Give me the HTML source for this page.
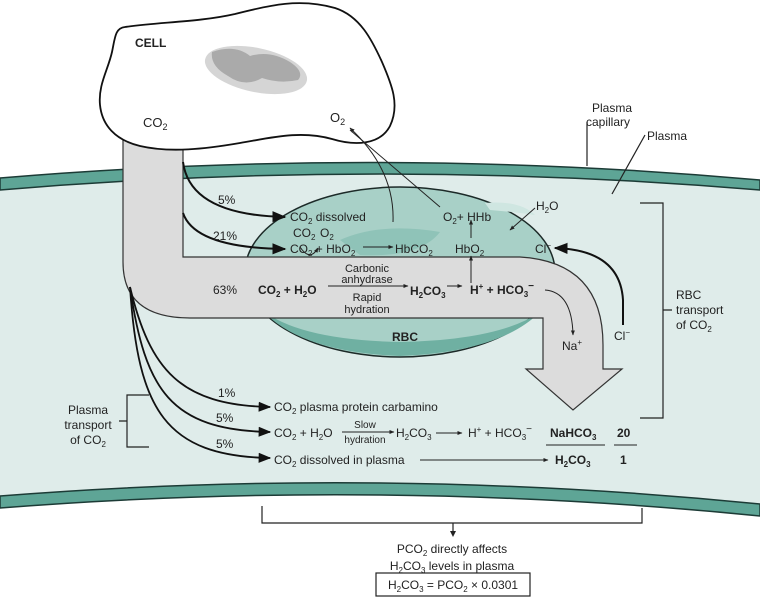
<!DOCTYPE html>
<html><head><meta charset="utf-8"><style>
html,body{margin:0;padding:0;background:#fff}
svg{display:block}
text{font-family:"Liberation Sans",Arial,sans-serif;fill:#222}
</style></head><body>
<svg width="760" height="601" viewBox="0 0 760 601" xmlns="http://www.w3.org/2000/svg">
<defs>
<marker id="a" viewBox="0 0 10 10" refX="9" refY="5" markerWidth="7" markerHeight="7" orient="auto"><path d="M0,1 L10,5 L0,9 z" fill="#111"/></marker>
<marker id="s" viewBox="0 0 10 10" refX="9" refY="5" markerWidth="5" markerHeight="5" orient="auto"><path d="M0,1 L10,5 L0,9 z" fill="#222"/></marker>
</defs>
<path d="M0,184 Q380,150 760,186 L760,510 Q380,470 0,500 Z" fill="#dfecea"/>
<path d="M0,178 Q380,146 760,180 L760,190 Q380,158 0,190 Z" fill="#5ea596" stroke="#1c3b36" stroke-width="1.5"/>
<path d="M0,496 Q380,466 760,504 L760,516 Q380,478 0,508 Z" fill="#5ea596" stroke="#1c3b36" stroke-width="1.5"/>
<ellipse cx="400" cy="272" rx="155" ry="85" fill="#a8d0c7" stroke="#1c2a28" stroke-width="1.5"/>
<path d="M262,310 Q300,352 400,356 Q500,352 540,312 Q500,340 400,342 Q300,340 262,310Z" fill="#6fb0a2"/>
<path d="M340,240 Q380,222 440,232 Q420,258 360,255Z" fill="#8fc3b8"/>
<path d="M485,203 Q520,200 535,215 Q515,212 490,210Z" fill="#cfe6e1"/>
<path d="M123,140 L183,140 L183,257 L520,257 Q603,262 603,345 L603,369 L622,369 L573,410 L526,369 L543,369 L543,318 L190,318 Q123,318 123,262 Z" fill="#dcdcdc" stroke="#333" stroke-width="1.2"/>
<!-- cell -->
<path d="M125,27 C160,22 200,22 235,14 C270,5 300,-2 335,8 C360,16 372,40 382,62 C392,85 400,105 390,126 C380,145 355,146 332,139 C300,130 270,138 240,143 C205,149 170,153 140,146 C115,140 102,125 100,105 C98,85 108,70 112,52 C115,38 115,28 125,27Z" fill="#fff" stroke="#111" stroke-width="1.8"/>
<ellipse cx="256" cy="70" rx="52" ry="22" fill="#d5d5d5" transform="rotate(12 256 70)"/>
<path d="M212,52 Q235,44 250,56 Q270,50 290,62 Q305,72 298,80 Q280,84 262,78 Q245,88 228,76 Q210,66 212,52Z" fill="#aaa"/>
<text x="135" y="47" font-size="12" font-weight="bold">CELL</text>
<text x="143" y="127" font-size="13">CO<tspan font-size="9" dy="3">2</tspan></text>
<text x="330" y="122" font-size="13">O<tspan font-size="9" dy="3">2</tspan></text>
<path d="M183,162 Q190,215 285,217" fill="none" stroke="#111" stroke-width="2" marker-end="url(#a)"/>
<path d="M183,213 Q195,248 285,249" fill="none" stroke="#111" stroke-width="2" marker-end="url(#a)"/>
<path d="M393,222 Q395,170 350,128" fill="none" stroke="#222" stroke-width="1" marker-end="url(#s)"/>
<path d="M440,207 L350,130" fill="none" stroke="#222" stroke-width="1"/>
<path d="M300,247 Q310,262 318,248" fill="none" stroke="#222" stroke-width="1" marker-end="url(#s)"/>
<path d="M363,247 L393,247" stroke="#222" stroke-width="1" marker-end="url(#s)"/>
<path d="M471,238 L471,220" stroke="#222" stroke-width="1" marker-end="url(#s)"/>
<path d="M471,283 L471,256" stroke="#222" stroke-width="1" marker-end="url(#s)"/>
<path d="M535,208 L510,230" stroke="#222" stroke-width="1" marker-end="url(#s)"/>
<path d="M623,325 L623,300 Q620,250 555,248" fill="none" stroke="#111" stroke-width="2" marker-end="url(#a)"/>
<path d="M545,290 Q572,292 573,335" fill="none" stroke="#222" stroke-width="1" marker-end="url(#s)"/>
<path d="M328,286 L408,286" stroke="#222" stroke-width="1" marker-end="url(#s)"/>
<path d="M447,286 L462,286" stroke="#222" stroke-width="1" marker-end="url(#s)"/>
<text x="218" y="204" font-size="12">5%</text>
<text x="290" y="221" font-size="12">CO<tspan font-size="8" dy="3">2</tspan><tspan dy="-3"> dissolved</tspan></text>
<text x="213" y="240" font-size="12">21%</text>
<text x="290" y="253" font-size="12">CO<tspan font-size="8" dy="3">2</tspan><tspan dy="-3"> + HbO</tspan><tspan font-size="8" dy="3">2</tspan></text>
<text x="293" y="237" font-size="12">CO<tspan font-size="8" dy="3">2</tspan></text>
<text x="320" y="237" font-size="12">O<tspan font-size="8" dy="3">2</tspan></text>
<text x="395" y="253" font-size="12">HbCO<tspan font-size="8" dy="3">2</tspan></text>
<text x="443" y="221" font-size="12">O<tspan font-size="8" dy="3">2</tspan><tspan dy="-3">+ HHb</tspan></text>
<text x="455" y="253" font-size="12">HbO<tspan font-size="8" dy="3">2</tspan></text>
<text x="536" y="210" font-size="12">H<tspan font-size="8" dy="3">2</tspan><tspan dy="-3">O</tspan></text>
<text x="535" y="253" font-size="12">Cl<tspan font-size="8" dy="-5">−</tspan></text>
<text x="213" y="294" font-size="12">63%</text>
<text x="258" y="294" font-size="12" font-weight="bold">CO<tspan font-size="8" dy="3">2</tspan><tspan dy="-3"> + H</tspan><tspan font-size="8" dy="3">2</tspan><tspan dy="-3">O</tspan></text>
<text x="367" y="272" font-size="11" text-anchor="middle">Carbonic</text>
<text x="367" y="283" font-size="11" text-anchor="middle">anhydrase</text>
<text x="367" y="301" font-size="11" text-anchor="middle">Rapid</text>
<text x="367" y="313" font-size="11" text-anchor="middle">hydration</text>
<text x="410" y="295" font-size="12" font-weight="bold">H<tspan font-size="8" dy="3">2</tspan><tspan dy="-3">CO</tspan><tspan font-size="8" dy="3">3</tspan></text>
<text x="470" y="294" font-size="12" font-weight="bold">H<tspan font-size="8" dy="-5">+</tspan><tspan dy="5"> + HCO</tspan><tspan font-size="8" dy="3">3</tspan><tspan font-size="10" dy="-8">−</tspan></text>
<text x="392" y="341" font-size="12" font-weight="bold">RBC</text>
<text x="562" y="350" font-size="12">Na<tspan font-size="8" dy="-5">+</tspan></text>
<text x="614" y="340" font-size="12">Cl<tspan font-size="8" dy="-5">−</tspan></text>
<text x="612" y="112" font-size="12" text-anchor="middle">Plasma</text>
<text x="608" y="126" font-size="12" text-anchor="middle">capillary</text>
<line x1="587" y1="122" x2="587" y2="166" stroke="#222" stroke-width="1.2"/>
<text x="647" y="140" font-size="12">Plasma</text>
<line x1="645" y1="135" x2="612" y2="194" stroke="#222" stroke-width="1.2"/>
<path d="M640,203 L663,203 L663,418 L640,418 M663,310 L672,310" fill="none" stroke="#222" stroke-width="1.2"/>
<text x="676" y="299" font-size="12">RBC</text>
<text x="676" y="314" font-size="12">transport</text>
<text x="676" y="329" font-size="12">of CO<tspan font-size="8" dy="3">2</tspan></text>
<path d="M130,287 C150,370 180,405 270,407" fill="none" stroke="#111" stroke-width="1.8" marker-end="url(#a)"/>
<path d="M130,287 C145,390 170,430 270,432" fill="none" stroke="#111" stroke-width="1.8" marker-end="url(#a)"/>
<path d="M130,287 C138,410 165,456 270,458" fill="none" stroke="#111" stroke-width="1.8" marker-end="url(#a)"/>
<text x="218" y="397" font-size="12">1%</text>
<text x="274" y="411" font-size="12">CO<tspan font-size="8" dy="3">2</tspan><tspan dy="-3"> plasma protein carbamino</tspan></text>
<text x="216" y="422" font-size="12">5%</text>
<text x="274" y="437" font-size="12">CO<tspan font-size="8" dy="3">2</tspan><tspan dy="-3"> + H</tspan><tspan font-size="8" dy="3">2</tspan><tspan dy="-3">O</tspan></text>
<text x="365" y="428" font-size="10" text-anchor="middle">Slow</text>
<text x="365" y="443" font-size="10" text-anchor="middle">hydration</text>
<line x1="342" y1="432" x2="394" y2="432" stroke="#222" stroke-width="1" marker-end="url(#s)"/>
<text x="396" y="437" font-size="12">H<tspan font-size="8" dy="3">2</tspan><tspan dy="-3">CO</tspan><tspan font-size="8" dy="3">3</tspan></text>
<line x1="436" y1="433" x2="462" y2="433" stroke="#222" stroke-width="1" marker-end="url(#s)"/>
<text x="468" y="437" font-size="12">H<tspan font-size="8" dy="-5">+</tspan><tspan dy="5"> + HCO</tspan><tspan font-size="8" dy="3">3</tspan><tspan font-size="10" dy="-8">−</tspan></text>
<text x="216" y="448" font-size="12">5%</text>
<text x="274" y="464" font-size="12">CO<tspan font-size="8" dy="3">2</tspan><tspan dy="-3"> dissolved in plasma</tspan></text>
<line x1="420" y1="460" x2="548" y2="460" stroke="#222" stroke-width="1" marker-end="url(#s)"/>
<text x="550" y="437" font-size="12" font-weight="bold">NaHCO<tspan font-size="8" dy="3">3</tspan></text>
<line x1="546" y1="445" x2="605" y2="445" stroke="#222"/>
<text x="555" y="464" font-size="12" font-weight="bold">H<tspan font-size="8" dy="3">2</tspan><tspan dy="-3">CO</tspan><tspan font-size="8" dy="3">3</tspan></text>
<text x="617" y="437" font-size="12" font-weight="bold">20</text>
<line x1="614" y1="445" x2="637" y2="445" stroke="#222"/>
<text x="620" y="464" font-size="12" font-weight="bold">1</text>
<text x="88" y="414" font-size="12" text-anchor="middle">Plasma</text>
<text x="88" y="429" font-size="12" text-anchor="middle">transport</text>
<text x="88" y="444" font-size="12" text-anchor="middle">of CO<tspan font-size="8" dy="3">2</tspan></text>
<path d="M149,395 L127,395 L127,447 L149,447 M127,421 L119,421" fill="none" stroke="#222" stroke-width="1.2"/>
<path d="M262,506 L262,523 L642,523 L642,508 M453,523 L453,534" fill="none" stroke="#222" stroke-width="1.2"/>
<path d="M450,531 L453,537 L456,531Z" fill="#222"/>
<text x="452" y="553" font-size="12" text-anchor="middle">PCO<tspan font-size="8" dy="3">2</tspan><tspan dy="-3"> directly affects</tspan></text>
<text x="452" y="570" font-size="12" text-anchor="middle">H<tspan font-size="8" dy="3">2</tspan><tspan dy="-3">CO</tspan><tspan font-size="8" dy="3">3</tspan><tspan dy="-3"> levels in plasma</tspan></text>
<rect x="376" y="573" width="154" height="23" fill="#fff" stroke="#222" stroke-width="1.2"/>
<text x="453" y="589" font-size="12" text-anchor="middle">H<tspan font-size="8" dy="3">2</tspan><tspan dy="-3">CO</tspan><tspan font-size="8" dy="3">3</tspan><tspan dy="-3"> = PCO</tspan><tspan font-size="8" dy="3">2</tspan><tspan dy="-3"> × 0.0301</tspan></text>
</svg>
</body></html>
